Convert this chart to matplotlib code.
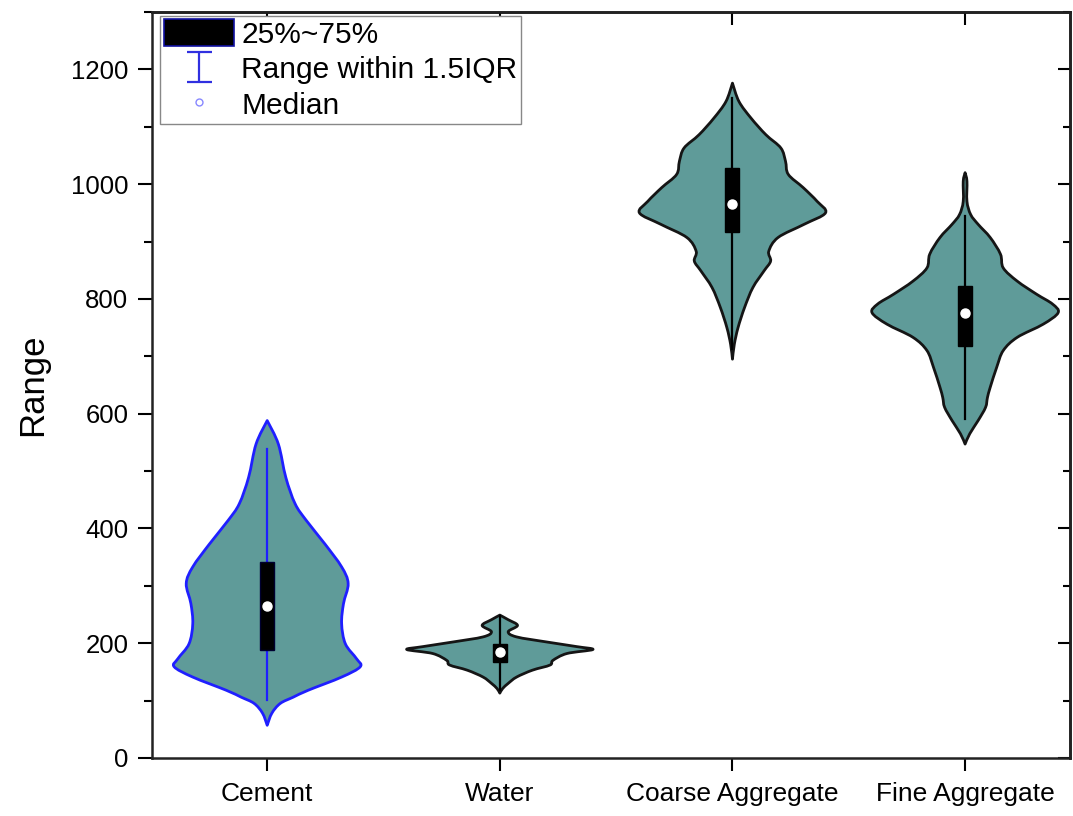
import numpy as np
import matplotlib
matplotlib.use("Agg")
import matplotlib.pyplot as plt
from matplotlib.patches import Patch, Rectangle, PathPatch
from matplotlib.path import Path
from matplotlib.lines import Line2D
from matplotlib.ticker import MultipleLocator

plt.rcParams['font.family'] = ['Liberation Sans', 'DejaVu Sans']

categories = ["Cement", "Water", "Coarse Aggregate", "Fine Aggregate"]

# violin outlines: value levels and relative half-width (1 = widest point)
cement_y = [57, 78, 95, 106, 118, 141, 159, 173, 199, 234, 269, 304, 333, 373, 414, 443, 489, 547, 588]
cement_d = [0, .05, .14, .28, .44, .80, 1.0, .96, .84, .80, .82, .87, .80, .62, .42, .30, .20, .12, 0]

water_y = [113, 121, 130, 141, 153, 162, 170, 182, 189, 194, 202, 211, 220, 231, 241, 249]
water_d = [0, .03, .09, .18, .35, .54, .57, .72, 1.0, .83, .51, .18, .09, .19, .09, 0]

coarse_y = [695, 721, 750, 785, 820, 849, 866, 883, 907, 930, 950, 970, 994, 1017, 1040, 1063, 1086, 1115, 1144, 1176]
coarse_d = [0, .02, .06, .13, .22, .34, .41, .39, .49, .77, 1.0, .91, .76, .60, .57, .52, .36, .20, .07, 0]

fine_y = [547, 565, 588, 611, 628, 646, 681, 710, 733, 756, 776, 791, 808, 831, 854, 878, 907, 930, 947, 970, 1005, 1020]
fine_d = [0, .05, .14, .22, .24, .27, .34, .41, .56, .84, 1.0, .94, .77, .56, .41, .38, .27, .14, .06, .02, .02, 0]

# box statistics
q1 = [188, 167, 917, 718]
median = [264, 185, 965, 776]
q3 = [341, 199, 1028, 823]
whisk_lo = [101, 118, 712, 591]
whisk_hi = [539, 247, 1150, 944]

outlines = [(cement_y, cement_d), (water_y, water_d), (coarse_y, coarse_d), (fine_y, fine_d)]
edge_colors = ["#1f1fff", "#151515", "#151515", "#151515"]
line_colors = ["#1f1fff", "#000000", "#000000", "#000000"]
fill_color = "#5f9b99"
half_width = 0.40
box_width = 0.06


def bezier_side(xs, ys):
    """Catmull-Rom through the outline points, returned as cubic bezier vertices."""
    p = np.column_stack([xs, ys])
    ext = np.vstack([p[0], p, p[-1]])
    verts = []
    for k in range(len(p) - 1):
        a, b, c, d = ext[k], ext[k + 1], ext[k + 2], ext[k + 3]
        verts += [b + (c - a) / 6.0, c - (d - b) / 6.0, c]
    return verts


def violin_path(pos, yy, dd):
    yy = np.asarray(yy, dtype=float)
    dd = np.asarray(dd, dtype=float) * half_width
    right = bezier_side(pos + dd, yy)
    left = bezier_side((pos - dd)[::-1], yy[::-1])
    verts = [(pos + dd[0], yy[0])] + right + left
    codes = [Path.MOVETO] + [Path.CURVE4] * (len(right) + len(left))
    verts.append(verts[0])
    codes.append(Path.CLOSEPOLY)
    return Path(verts, codes)


fig = plt.figure(figsize=(10.73, 8.16), dpi=100)
ax = fig.add_axes([0.1417, 0.0711, 0.8553, 0.9142])

for i, (yy, dd) in enumerate(outlines):
    pos = i + 1
    ax.add_patch(PathPatch(violin_path(pos, yy, dd), facecolor=fill_color,
                           edgecolor=edge_colors[i], linewidth=2.0, joinstyle='round', zorder=2))
    ax.plot([pos, pos], [whisk_lo[i], whisk_hi[i]], color=line_colors[i], lw=1.6, zorder=3)
    ax.add_patch(Rectangle((pos - box_width / 2, q1[i]), box_width, q3[i] - q1[i],
                           facecolor="black", edgecolor="#000030" if i == 0 else "black",
                           lw=1, zorder=4))
    ax.plot(pos, median[i], 'o', ms=6.5, mfc='white', mec='white', zorder=5)

ax.set_xlim(0.505, 4.45)
ax.set_ylim(0, 1300)
ax.set_xticks(range(1, 5))
ax.set_xticklabels(categories, fontsize=19)
ax.yaxis.set_major_locator(MultipleLocator(200))
ax.yaxis.set_minor_locator(MultipleLocator(100))
ax.tick_params(axis='y', labelsize=18.5, length=10, width=1.5, pad=7)
ax.tick_params(axis='y', which='minor', length=5.5, width=1.5)
ax.tick_params(axis='x', length=9, width=1.5, pad=8)
ax.set_ylabel("Range", fontsize=25, labelpad=16)

for sp in ax.spines.values():
    sp.set_linewidth(1.8)
    sp.set_color("#222222")

# inward ticks on the top and right frame
top = ax.secondary_xaxis('top')
top.set_xticks(range(1, 5))
top.tick_params(direction='in', length=9, width=1.5, labeltop=False)
right = ax.secondary_yaxis('right')
right.yaxis.set_major_locator(MultipleLocator(200))
right.yaxis.set_minor_locator(MultipleLocator(100))
right.tick_params(which='major', direction='in', length=9, width=1.5, labelright=False)
right.tick_params(which='minor', direction='in', length=5, width=1.5)
top.spines['top'].set_linewidth(1.8)
right.spines['right'].set_linewidth(1.8)

box_handle = Patch(facecolor='black', edgecolor='#1010a0', lw=1.2, label='25%~75%')
range_handle = ax.errorbar([np.nan], [np.nan], yerr=[1], fmt='none', ecolor='#3030e0',
                           elinewidth=1.6, capsize=9, capthick=1.6, label='Range within 1.5IQR')
median_handle = Line2D([], [], marker='o', ls='none', ms=5, mfc='none', mec='#8888ff',
                       mew=1, label='Median')
leg = ax.legend(handles=[box_handle, range_handle, median_handle], loc='upper left',
                bbox_to_anchor=(0.0087, 0.995), borderaxespad=0, fontsize=21.5,
                handlelength=2.35, handleheight=1.0, handletextpad=0.25,
                labelspacing=0.2, borderpad=0.12, fancybox=False, framealpha=1)
leg.get_frame().set_edgecolor('#888888')
leg.get_frame().set_linewidth(1.0)

fig.savefig("out.png", dpi=100)
